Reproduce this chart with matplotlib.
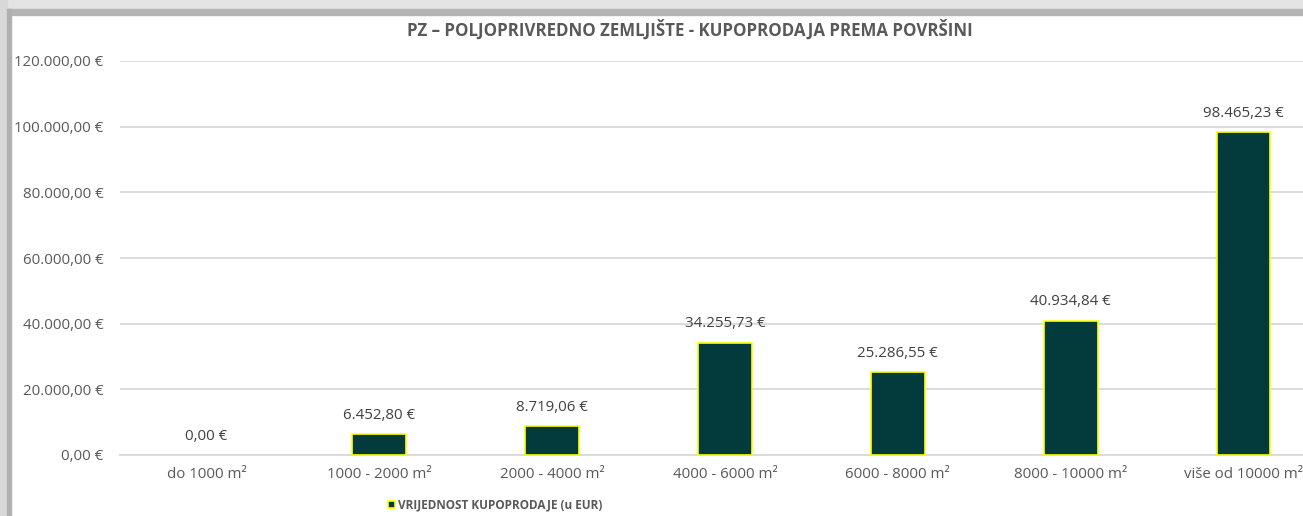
import matplotlib.pyplot as plt
from matplotlib.patches import Rectangle
import numpy as np

# Podaci
kategorije = ['do 1000 m²', '1000 - 2000 m²', '2000 - 4000 m²', '4000 - 6000 m²',
              '6000 - 8000 m²', '8000 - 10000 m²', 'više od 10000 m²']
vrijednosti = [0.00, 6452.80, 8719.06, 34255.73, 25286.55, 40934.84, 98465.23]
y_ticks = [0, 20000, 40000, 60000, 80000, 100000, 120000]

def eur(v):
    s = f"{v:,.2f}".replace(',', 'X').replace('.', ',').replace('X', '.')
    return s + ' €'

plt.rcParams['font.family'] = ['Open Sans', 'DejaVu Sans']
siva = '#595959'

fig = plt.figure(figsize=(13.03, 5.16), dpi=100)

# okvir (sjena oko grafikona)
fig.patches.append(Rectangle((0, 1 - 9/516), 1, 9/516, transform=fig.transFigure,
                             color='#e4e4e4', zorder=0))
fig.patches.append(Rectangle((0, 1 - 15/516), 1, 6/516, transform=fig.transFigure,
                             color='#b4b4b4', zorder=0))
fig.patches.append(Rectangle((0, 0), 7/1303, 1, transform=fig.transFigure,
                             color='#d8d8d8', zorder=0))
fig.patches.append(Rectangle((7/1303, 0), 4/1303, 1 - 9/516, transform=fig.transFigure,
                             color='#b0b0b0', zorder=0))

ax = fig.add_axes([120/1303, 61/516, 1210/1303, 394/516])
x = np.arange(len(kategorije))
rubovi = ['#ffff00' if v > 0 else 'none' for v in vrijednosti]
ax.bar(x, vrijednosti, width=0.31, color='#033b3d', edgecolor=rubovi,
       linewidth=1.2, zorder=3)

for xi, v in zip(x, vrijednosti):
    ax.annotate(eur(v), (xi, v), xytext=(0, 8), textcoords='offset points',
                ha='center', va='bottom', fontsize=10.8, color='#404040')

ax.set_xlim(-0.5, 6.5)
ax.set_ylim(0, 120000)
ax.set_yticks(y_ticks)
ax.set_yticklabels([eur(t) for t in y_ticks])
ax.set_xticks(x)
ax.set_xticklabels(kategorije)
ax.tick_params(axis='both', length=0, labelsize=10.8, labelcolor=siva)
ax.tick_params(axis='y', pad=12)
ax.tick_params(axis='x', pad=9)
ax.grid(axis='y', color='#d9d9d9', linewidth=1.3, zorder=0)
for s in ['top', 'right', 'left']:
    ax.spines[s].set_visible(False)
ax.spines['bottom'].set_color('#d9d9d9')
ax.spines['bottom'].set_linewidth(1.3)

fig.text(690/1303, 1 - 30/516, 'PZ – POLJOPRIVREDNO ZEMLJIŠTE - KUPOPRODAJA PREMA POVRŠINI',
         ha='center', va='center', fontsize=12.2, fontweight='bold', color=siva)

ax.legend([plt.Rectangle((0, 0), 1, 1, facecolor='#033b3d', edgecolor='#ffff00', linewidth=1.2)],
          ['VRIJEDNOST KUPOPRODAJE (u EUR)'], loc='center left',
          bbox_to_anchor=(377/1303, 1 - 505/516), bbox_transform=fig.transFigure,
          frameon=False, handlelength=0.6, handleheight=0.6, handletextpad=0.3,
          prop={'weight': 'bold', 'size': 8.5}, labelcolor=siva)

fig.savefig('out.png', dpi=100)
